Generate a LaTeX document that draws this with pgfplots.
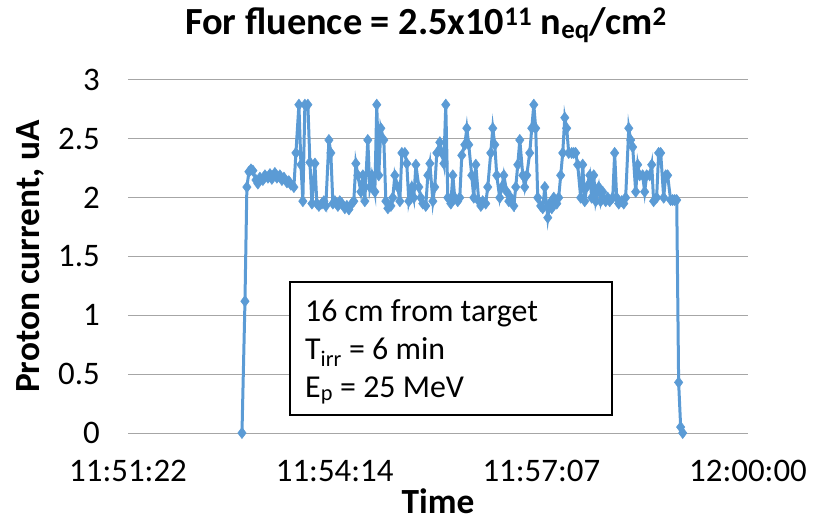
\documentclass[border=0pt]{standalone}
\usepackage{fontspec}
\setmainfont{Carlito}
\usepackage{pgfplots}
\pgfplotsset{compat=1.18}
\definecolor{ser}{RGB}{91,155,213}
\definecolor{gridc}{RGB}{166,166,166}
\begin{document}
\begin{tikzpicture}
\useasboundingbox (-128bp,-88bp) rectangle (687bp,433bp);
\begin{axis}[
  at={(0,0)}, anchor=south west,
  scale only axis, width=620bp, height=353bp,
  xmin=0, xmax=518.4, ymin=0, ymax=3,
  axis line style={draw=none},
  major tick length=0pt,
  ymajorgrids, grid style={gridc, line width=1bp},
  xtick={0,172.8,345.6,518.4},
  xticklabels={11:51:22,11:54:14,11:57:07,12:00:00},
  ytick={0,0.5,1,1.5,2,2.5,3},
  yticklabels={0,0.5,1,1.5,2,2.5,3},
  xticklabel style={anchor=north, inner sep=0pt, yshift=-27bp, font=\fontsize{33}{38}\selectfont},
  yticklabel style={anchor=east, inner sep=0pt, xshift=-28bp, font=\fontsize{33}{38}\selectfont},
  xlabel={Time},
  xlabel style={at={(axis description cs:0.5,0)}, anchor=base, yshift=-80bp, inner sep=0pt, font=\fontsize{35.5}{40}\selectfont\bfseries},
  title={For fluence = 2.5x10\textsuperscript{11} n\textsubscript{eq}/cm\textsuperscript{2}},
  title style={at={(axis description cs:0.4806,1)}, anchor=base, yshift=40bp, inner sep=0pt, font=\fontsize{38.5}{44}\selectfont\bfseries},
  clip=false,
]
\addplot[color=ser, line width=3bp, mark=diamond*, mark size=5.6bp, mark options={fill=ser, draw=ser, line width=0.5bp}] coordinates {
(95.3,0.00) (97.8,1.12) (99.4,2.09) (101.1,2.22) (102.8,2.24) (104.4,2.23) (107.0,2.15) (108.6,2.12)
(110.3,2.17) (112.8,2.15) (114.5,2.19) (117.0,2.17) (118.7,2.20) (120.3,2.16) (122.8,2.21) (124.5,2.17)
(127.0,2.19) (128.7,2.15) (130.4,2.17) (132.9,2.13) (134.5,2.14) (136.2,2.11) (138.7,2.09) (140.4,2.38)
(142.9,2.79) (144.6,2.28) (146.2,1.97) (147.9,2.79) (150.4,2.79) (152.1,2.30) (153.8,1.95) (156.3,2.29)
(157.9,1.95) (159.6,1.93) (162.1,1.95) (163.8,1.97) (165.4,1.93) (168.0,2.49) (169.6,2.38) (171.3,1.95)
(173.0,1.97) (175.5,1.93) (177.1,1.97) (178.8,1.95) (181.3,1.91) (183.0,1.93) (184.7,1.90) (187.2,1.95)
(188.8,1.97) (190.5,2.29) (192.2,2.19) (194.7,2.05) (196.4,2.19) (198.0,1.97) (200.5,2.49) (202.2,2.09)
(203.9,2.19) (206.4,2.05) (208.0,2.79) (209.7,2.19) (211.4,2.59) (213.9,2.49) (215.6,1.97) (217.3,1.91)
(219.8,1.93) (221.4,2.00) (223.1,2.19) (225.6,2.09) (227.3,1.97) (229.0,2.38) (231.5,2.38) (233.1,2.29)
(234.8,1.97) (237.3,2.09) (239.0,2.00) (240.7,2.28) (243.2,2.09) (244.8,2.00) (246.5,1.95) (249.0,1.93)
(250.7,2.19) (252.4,2.29) (254.9,1.97) (256.5,2.09) (258.2,2.38) (260.7,2.47) (262.4,2.38) (264.1,2.29)
(265.7,2.79) (267.4,2.00) (269.9,1.95) (271.6,2.19) (273.2,2.00) (275.7,1.97) (277.4,2.00) (279.1,2.36)
(281.6,2.45) (283.3,2.59) (284.9,2.45) (287.4,2.19) (289.1,2.00) (290.8,2.28) (293.3,1.97) (295.0,1.93)
(296.6,1.97) (299.1,1.95) (300.8,2.09) (303.3,2.38) (305.0,2.59) (306.7,2.45) (308.3,2.19) (310.8,2.00)
(312.5,2.09) (314.2,2.19) (316.7,2.05) (318.4,1.97) (320.0,2.00) (322.6,1.93) (324.2,2.09) (325.9,2.28)
(327.6,2.49) (330.1,2.19) (331.7,2.09) (333.4,2.19) (335.9,2.38) (337.6,2.59) (339.3,2.79) (340.9,2.59)
(342.6,2.00) (345.1,1.93) (346.8,1.91) (348.5,2.09) (351.0,1.83) (352.6,1.95) (354.3,1.91) (356.0,2.00)
(358.5,1.95) (360.1,2.00) (361.8,2.19) (363.5,2.38) (365.2,2.68) (366.8,2.59) (368.5,2.38) (371.0,2.38)
(372.7,2.38) (374.3,2.38) (376.0,2.28) (378.5,2.00) (380.2,2.28) (381.9,1.97) (383.5,2.09) (386.1,2.19)
(387.7,2.00) (389.4,2.19) (391.1,1.97) (393.6,2.09) (395.2,1.97) (396.9,2.05) (399.4,1.97) (401.1,2.00)
(402.8,1.97) (405.3,2.00) (406.9,2.38) (408.6,2.00) (410.3,1.95) (412.8,1.97) (414.5,1.95) (416.1,2.00)
(418.7,2.59) (420.3,2.49) (422.0,2.43) (424.5,2.05) (426.2,2.28) (427.8,2.19) (430.3,2.19) (432.0,2.05)
(433.7,2.19) (436.2,2.19) (437.9,2.28) (439.5,1.97) (442.0,2.00) (443.7,2.38) (445.4,2.38) (447.9,2.00)
(449.6,2.19) (451.2,2.19) (453.7,1.98) (455.4,1.98) (457.1,1.98) (458.8,1.98) (460.4,0.43) (462.1,0.05)
(463.8,0.00)
};
\end{axis}
\node[rotate=90, anchor=base, inner sep=0pt, font=\fontsize{35.5}{40}\selectfont\bfseries] at (-88bp,176.5bp) {Proton current, uA};
\draw[line width=1.5bp, fill=white] (162bp,18bp) rectangle (484bp,151bp);
\node[anchor=base west, inner sep=0pt, font=\fontsize{32}{36}\selectfont] at (177bp,111bp) {16 cm from target};
\node[anchor=base west, inner sep=0pt, font=\fontsize{32}{36}\selectfont] at (177bp,73bp) {T\textsubscript{irr} = 6 min};
\node[anchor=base west, inner sep=0pt, font=\fontsize{32}{36}\selectfont] at (177bp,36bp) {E\textsubscript{p} = 25 MeV};
\end{tikzpicture}
\end{document}
